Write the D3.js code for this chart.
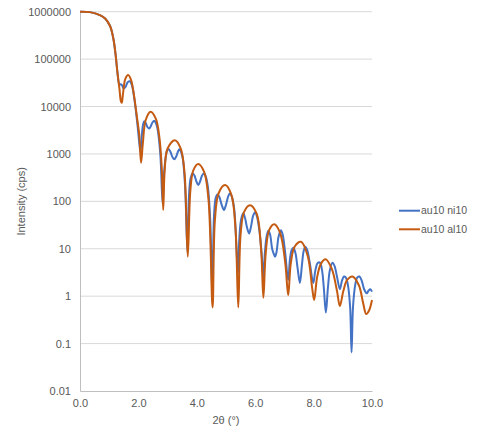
<!DOCTYPE html>
<html>
<head>
<meta charset="utf-8">
<script src="https://cdn.jsdelivr.net/npm/d3@7"></script>
<style>
    body { margin: 0; background: #fff; }
    svg text { font-family: "Liberation Sans", Arial, sans-serif; fill: #595959; }
</style>
</head>
<body>
<svg id="chart" width="480" height="444"></svg>
<script>
// 2theta (deg) values, with intensities (cps)
const niAngle = [0, 0.34, 0.68, 0.86, 1.03, 1.14, 1.22, 1.28, 1.35, 1.40, 1.44, 1.50, 1.56, 1.64, 1.71, 1.78, 1.88, 1.97, 2.04, 2.07,
    2.12, 2.16, 2.20, 2.25, 2.31, 2.37, 2.42, 2.48, 2.54, 2.59, 2.65, 2.75, 2.83,
    2.88, 2.94, 2.99, 3.04, 3.10, 3.17, 3.23, 3.29, 3.35, 3.40, 3.45, 3.52, 3.60, 3.68,
    3.73, 3.79, 3.86, 3.92, 3.99, 4.05, 4.11, 4.18, 4.25, 4.31, 4.38, 4.46, 4.53,
    4.59, 4.65, 4.71, 4.77, 4.85, 4.93, 5.00, 5.08, 5.14, 5.20, 5.28, 5.36, 5.41,
    5.46, 5.52, 5.59, 5.65, 5.72, 5.79, 5.86, 5.93, 6.00, 6.06, 6.14, 6.22, 6.28,
    6.33, 6.39, 6.45, 6.51, 6.58, 6.63, 6.68, 6.73, 6.80, 6.88, 6.94, 7.02, 7.13,
    7.19, 7.25, 7.31, 7.38, 7.45, 7.53, 7.60, 7.66, 7.72, 7.78, 7.87, 7.99,
    8.06, 8.14, 8.22, 8.29, 8.35, 8.42, 8.49, 8.56, 8.65, 8.72, 8.80, 8.90,
    8.97, 9.04, 9.10, 9.17, 9.25, 9.30, 9.35, 9.43, 9.50, 9.57, 9.65, 9.73, 9.82, 9.88, 9.94, 10.0];
const niValue = [1000000, 980000, 850000, 720000, 500000, 275000, 123000, 54000, 29000, 29500, 28000, 24000, 26000, 33000, 34000, 28000, 12000, 4000, 1500, 1100,
    2600, 4200, 4900, 4500, 3700, 3450, 3800, 4600, 5000, 4600, 3500, 1000, 90,
    400, 900, 1200, 1250, 1100, 850, 770, 870, 1100, 1250, 1150, 800, 200, 8.6,
    120, 310, 390, 350, 260, 220, 260, 350, 390, 330, 200, 40, 1.2,
    50, 120, 140, 125, 85, 66, 85, 130, 148, 125, 70, 10, 3,
    18, 42, 56, 45, 28, 21, 30, 50, 59, 48, 25, 8, 2.4,
    8, 18, 24, 20, 10, 8, 6.8, 8.5, 18, 24.5, 20, 9, 2.2,
    6, 9.5, 10.5, 8, 4, 1.9, 4.5, 9, 11, 9.5, 5, 1.9,
    3.5, 5, 5.1, 3.5, 1.5, 0.45, 1.5, 3.6, 5.1, 4.3, 2.6, 1.4,
    2.1, 2.6, 2.5, 1.8, 0.6, 0.065, 0.6, 1.8, 2.5, 2.6, 2.1, 1.4, 1.15, 1.3, 1.4, 1.25];

const alAngle = [0, 0.34, 0.68, 0.86, 1.03, 1.14, 1.22, 1.28, 1.35, 1.40, 1.43, 1.47, 1.55, 1.65, 1.75, 1.85, 1.95, 2.03, 2.09,
    2.15, 2.25, 2.42, 2.60, 2.72, 2.80, 2.85, 2.90, 3.00, 3.25, 3.45, 3.58, 3.69, 3.78, 3.88, 4.05, 4.25, 4.40, 4.54,
    4.62, 4.75, 4.97, 5.18, 5.32, 5.42, 5.50, 5.62, 5.82, 6.05, 6.20, 6.28, 6.36, 6.48, 6.65, 6.85, 7.03, 7.13, 7.22,
    7.35, 7.57, 7.80, 7.95, 8.02, 8.12, 8.25, 8.41, 8.62, 8.80, 8.90, 9.02, 9.15, 9.33, 9.55, 9.70, 9.80, 9.90, 10.0];
const alValue = [1000000, 980000, 850000, 720000, 500000, 275000, 123000, 54000, 24000, 13000, 12000, 18000, 38000, 46000, 36000, 17000, 6000, 2500, 650,
    1600, 5200, 7800, 5500, 2200, 500, 66, 450, 1300, 1950, 1300, 400, 6.8, 170, 450, 615, 420, 110, 0.58,
    40, 150, 220, 140, 30, 0.58, 20, 60, 83, 55, 10, 0.93, 8, 25, 33, 22, 5, 1.05, 5,
    11, 14, 7, 1.5, 0.83, 2.5, 4.8, 6, 3.8, 1.3, 0.62, 1.3, 2.2, 2.6, 1.7, 0.7, 0.42, 0.5, 0.83];

const seriesNames = ['au10 ni10', 'au10 al10'];
const seriesColors = ['#4472C4', '#C55A11'];
const xTicks = [0, 2, 4, 6, 8, 10];
const yTicks = [0.01, 0.1, 1, 10, 100, 1000, 10000, 100000, 1000000];

const plotLeft = 80, plotRight = 372, plotTop = 11.7, plotBottom = 391;

const svg = d3.select('#chart');

const x = d3.scaleLinear().domain([0, 10]).range([plotLeft, plotRight]);
const y = d3.scaleLog().domain([0.01, 1000000]).range([plotBottom, plotTop]);

// Gridlines
svg.append('g')
    .selectAll('line')
    .data(yTicks.slice(1))
    .enter()
    .append('line')
    .attr('x1', plotLeft)
    .attr('x2', plotRight)
    .attr('y1', d => y(d))
    .attr('y2', d => y(d))
    .attr('stroke', '#d9d9d9')
    .attr('stroke-width', 1);

// Axes
const yAxis = svg.append('g')
    .attr('transform', `translate(${plotLeft},0)`)
    .call(d3.axisLeft(y).tickValues(yTicks).tickSize(0).tickPadding(9).tickFormat(d => String(d)));
const xAxis = svg.append('g')
    .attr('transform', `translate(0,${plotBottom})`)
    .call(d3.axisBottom(x).tickValues(xTicks).tickSize(0).tickPadding(8).tickFormat(d3.format('.1f')));

[yAxis, xAxis].forEach(a => {
    a.select('.domain').attr('stroke', '#bfbfbf');
    a.selectAll('text').attr('font-size', 11).attr('fill', '#595959')
        .style('font-family', '"Liberation Sans", Arial, sans-serif');
});

// Axis titles
svg.append('text')
    .attr('transform', `translate(25,${(plotTop + plotBottom) / 2}) rotate(-90)`)
    .attr('text-anchor', 'middle')
    .attr('font-size', 11)
    .text('Intensity (cps)');
svg.append('text')
    .attr('x', (plotLeft + plotRight) / 2)
    .attr('y', 424)
    .attr('text-anchor', 'middle')
    .attr('font-size', 11)
    .text('2θ (°)');

// Lines
const line = d3.line()
    .x(d => x(d[0]))
    .y(d => y(d[1]))
    .curve(d3.curveCatmullRom.alpha(0.5));

const series = [d3.zip(niAngle, niValue), d3.zip(alAngle, alValue)];

svg.append('g')
    .selectAll('path')
    .data(series)
    .enter()
    .append('path')
    .attr('d', line)
    .attr('fill', 'none')
    .attr('stroke', (d, i) => seriesColors[i])
    .attr('stroke-width', 2)
    .attr('stroke-linejoin', 'round');

// Legend
const legend = svg.append('g')
    .selectAll('g')
    .data(seriesNames)
    .enter()
    .append('g')
    .attr('transform', (d, i) => `translate(399,${210.7 + i * 18.6})`);
legend.append('line')
    .attr('x1', 0)
    .attr('x2', 21)
    .attr('stroke', (d, i) => seriesColors[i])
    .attr('stroke-width', 2);
legend.append('text')
    .attr('x', 22)
    .attr('dy', '0.35em')
    .attr('font-size', 10.5)
    .text(d => d);
</script>
</body>
</html>
